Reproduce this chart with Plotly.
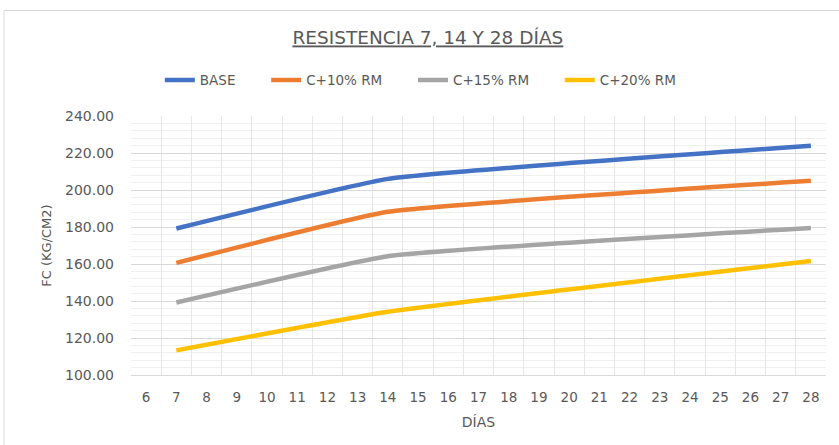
import plotly.graph_objects as go

categories = [str(d) for d in range(6, 29)]
days = ["7", "14", "28"]
base = [179.2, 206.0, 223.9]
c10 = [160.6, 188.2, 205.0]
c15 = [139.2, 164.2, 179.5]
c20 = [113.3, 134.2, 161.6]
series = [
    ("BASE", base, "#4472C4"),
    ("C+10% RM", c10, "#ED7D31"),
    ("C+15% RM", c15, "#A5A5A5"),
    ("C+20% RM", c20, "#FFC000"),
]

FONT = "DejaVu Sans"
GREY = "#595959"
PAD = "\u00a0" * 6

fig = go.Figure()
for name, vals, col in series:
    fig.add_trace(go.Scatter(
        x=days, y=vals, name=name + PAD, mode="lines",
        line=dict(color=col, width=4.5, shape="spline", smoothing=0.35),
    ))

fig.update_layout(
    width=839, height=445,
    margin=dict(l=131, r=13, t=116, b=70),
    paper_bgcolor="white", plot_bgcolor="white",
    font=dict(family=FONT, color=GREY, size=14),
    title=dict(text="<u>RESISTENCIA 7, 14 Y 28 DÍAS</u>", x=0.51, xanchor="center",
               y=1 - 38 / 445, yanchor="middle", font=dict(size=18.5, color=GREY, family=FONT)),
    legend=dict(orientation="h", x=0.435, xanchor="center", y=1.138, yanchor="middle",
                font=dict(size=13.5, color=GREY, family=FONT), itemwidth=30,
                bgcolor="rgba(0,0,0,0)"),
    showlegend=True,
)

fig.update_xaxes(
    type="category", categoryorder="array", categoryarray=categories,
    tickvals=categories, range=[-0.5, len(categories) - 0.5],
    tickson="boundaries", showgrid=True, gridcolor="#E6E6E6", gridwidth=1,
    ticks="", showline=True, linecolor="#D9D9D9", linewidth=1,
    tickfont=dict(size=13.5, color=GREY), zeroline=False, ticklabelstandoff=10,
    title=dict(text="DÍAS", font=dict(size=14, color=GREY), standoff=12),
)
fig.update_yaxes(
    range=[100, 240], dtick=20, tickformat=".2f",
    showgrid=True, gridcolor="#D9D9D9", gridwidth=1,
    minor=dict(dtick=4, showgrid=True, gridcolor="#F0F0F0", gridwidth=1),
    ticks="", showline=False, zeroline=False,
    tickfont=dict(size=14, color=GREY), ticklabelstandoff=16,
    title=dict(text="FC (KG/CM2)", font=dict(size=13, color=GREY), standoff=10),
)

fig.add_shape(type="rect", xref="paper", yref="paper",
              x0=-127 / 695, x1=1.2, y0=-0.5, y1=365 / 259.3,
              line=dict(color="#D9D9D9", width=1), fillcolor="rgba(0,0,0,0)", layer="below")

fig.write_html("out.html", config={"displayModeBar": False},
               post_script="document.body.style.margin='0';")
